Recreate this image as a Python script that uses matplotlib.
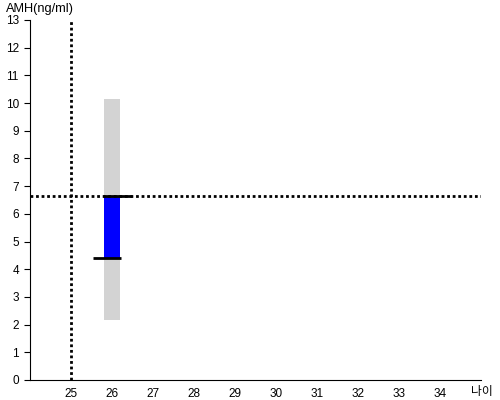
import matplotlib
matplotlib.use('Agg')
import matplotlib.pyplot as plt

plt.rcParams['font.family'] = ['Liberation Sans', 'Noto Sans CJK KR', 'DejaVu Sans']

# data
ages = [26]
range_low = [2.17]
range_high = [10.15]
amh_low = [4.40]
amh_high = [6.64]
my_age = 25
my_amh = 6.64
xticks = list(range(25, 35))
yticks = list(range(0, 14))

fig = plt.figure(figsize=(5, 4), dpi=100)
ax = fig.add_axes([0.06, 0.05, 0.902, 0.90])

# grey range bar and blue bar
ax.bar(ages, [h - l for l, h in zip(range_low, range_high)], bottom=range_low,
       width=0.39, color='#d3d3d3', zorder=1)
ax.bar(ages, [h - l for l, h in zip(amh_low, amh_high)], bottom=amh_low,
       width=0.39, color='#0000ff', zorder=2)

# black markers
for a, lo, hi in zip(ages, amh_low, amh_high):
    ax.plot([a - 0.46, a + 0.22], [lo, lo], color='black', lw=2, zorder=3,
            solid_capstyle='butt')
    ax.plot([a - 0.22, a + 0.49], [hi, hi], color='black', lw=2, zorder=3,
            solid_capstyle='butt')

# dotted reference lines
ax.axvline(my_age, color='black', ls=(0, (1, 1)), lw=2, zorder=4)
ax.axhline(my_amh, color='black', ls=(0, (1, 1)), lw=2, zorder=4)

ax.set_xlim(24, 35)
ax.set_ylim(0, 13)
ax.set_xticks(xticks)
ax.set_yticks(yticks)
ax.tick_params(axis='x', length=0, labelsize=8.5, pad=6)
ax.tick_params(axis='y', length=4, labelsize=8.5, pad=4)
ax.spines['top'].set_visible(False)
ax.spines['right'].set_visible(False)

fig.text(0.012, 0.978, 'AMH(ng/ml)', fontsize=9.2, va='center', ha='left')
fig.text(0.986, 0.0225, '나이', fontsize=8.5, va='center', ha='right',
         family=['Noto Sans CJK KR', 'DejaVu Sans'])

fig.savefig('out.png', dpi=100)
